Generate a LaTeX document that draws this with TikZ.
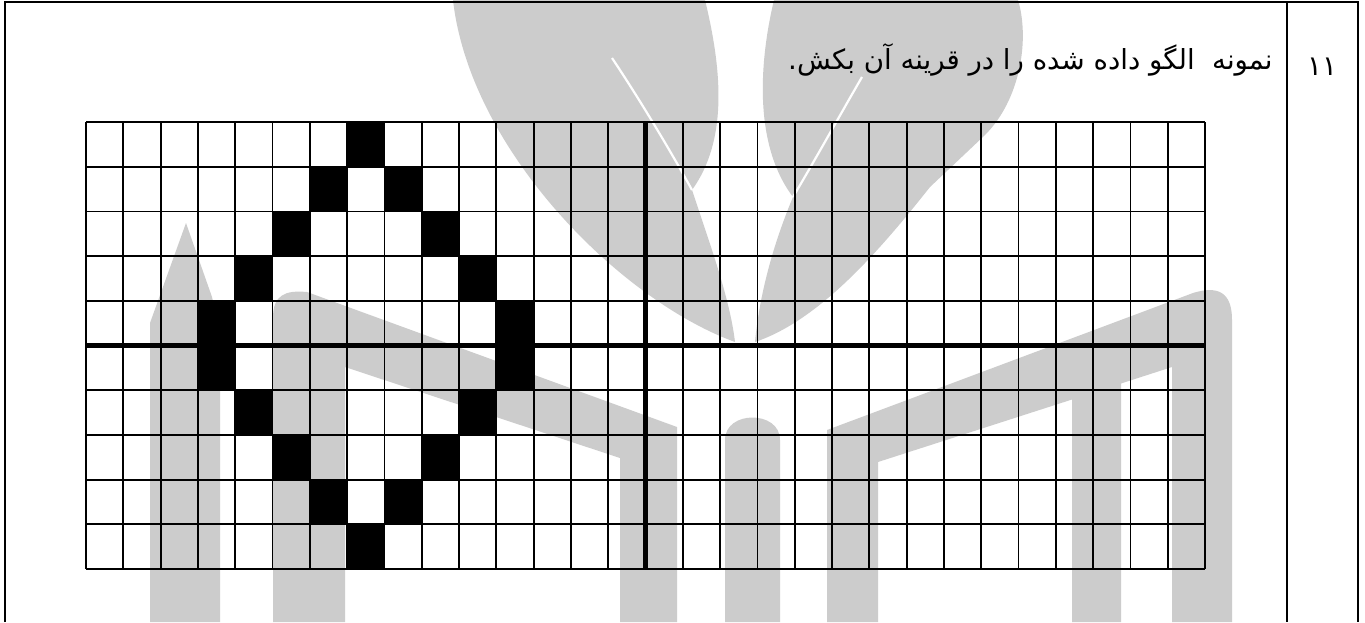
\documentclass[tikz,border=0pt]{standalone}
\usepackage{fontspec}
\newfontfamily\farsifont[Script=Arabic]{DejaVu Sans}
\TeXXeTstate=1
\definecolor{wmark}{HTML}{CCCCCC}
\tikzset{
  gridln/.style={line width=0.9pt},
  axisln/.style={line width=2.8pt},
  frameln/.style={line width=1.3pt},
  veinln/.style={white,line width=1.1pt},
  qfont/.style={font=\farsifont\fontsize{13.8}{16}\selectfont,inner sep=0pt},
}
\begin{document}
\begin{tikzpicture}[x=0.5pt,y=-0.5pt]
\useasboundingbox (0,0) rectangle (1365,622);
\fill[white] (0,0) rectangle (1365,622);
\begin{scope}[wmark]
\fill (453,0) -- (705,0) .. controls (722,70) and (728,140) .. (692,190)
  .. controls (712,250) and (730,300) .. (735,342)
  .. controls (620,300) and (470,150) .. (453,0) -- cycle;
\fill (774,0) -- (1018,0) .. controls (1030,40) and (1020,100) .. (985,135) -- (930,187)
  .. controls (880,250) and (820,320) .. (755,342)
  .. controls (760,290) and (775,240) .. (793,197)
  .. controls (750,140) and (762,50) .. (774,0) -- cycle;
\fill (150,622) -- (150,323) -- (186,223) -- (212,297) -- (220,330) -- (220,622) -- cycle;
\fill (273,622) -- (273,318) .. controls (273,295) and (285,290) .. (307,292) -- (677,427)
  -- (677,622) -- (620,622) -- (620,458) -- (345,367) -- (345,622) -- cycle;
\fill (725,622) -- (725,440) .. controls (725,410) and (780,410) .. (780,440) -- (780,622) -- cycle;
\fill (827,622) -- (827,430) -- (1193,293) .. controls (1225,283) and (1232,300) .. (1232,320)
  -- (1232,622) -- (1172,622) -- (1172,367) -- (1121,383.5) -- (1121,622) -- (1072,622)
  -- (1072,399.5) -- (878,462) -- (878,622) -- cycle;
\end{scope}
\draw[veinln] (612,58) .. controls (640,100) and (670,150) .. (692,190);
\draw[veinln] (862,77) .. controls (840,115) and (815,160) .. (793,197);
\begin{scope}[shift={(86,122)},x=18.65pt,y=-22.35pt]
\foreach \cx/\ry in {7/0,6/1,8/1,5/2,9/2,4/3,10/3,3/4,11/4,3/5,11/5,4/6,10/6,5/7,9/7,6/8,8/8,7/9}
  \fill (\cx,\ry) rectangle ++(1,1);
\foreach \i in {0,...,30} \draw[gridln] (\i,0) -- (\i,10);
\foreach \j in {0,...,10} \draw[gridln] (0,\j) -- (30,\j);
\draw[axisln] (0,5) -- (30,5);
\draw[axisln] (15,0) -- (15,10);
\end{scope}
\draw[frameln] (5,622) -- (5,2) -- (1358,2) -- (1358,622);
\draw[frameln] (1287,2) -- (1287,622);
\node[qfont,anchor=base east] (qtext) at (1273,69) {\beginR نمونه~ الگو داده شده را در قرینه آن بکش.\endR};
\node[qfont,anchor=base] (qnum) at (1322,75) {\beginR ۱۱\endR};
\end{tikzpicture}
\end{document}
